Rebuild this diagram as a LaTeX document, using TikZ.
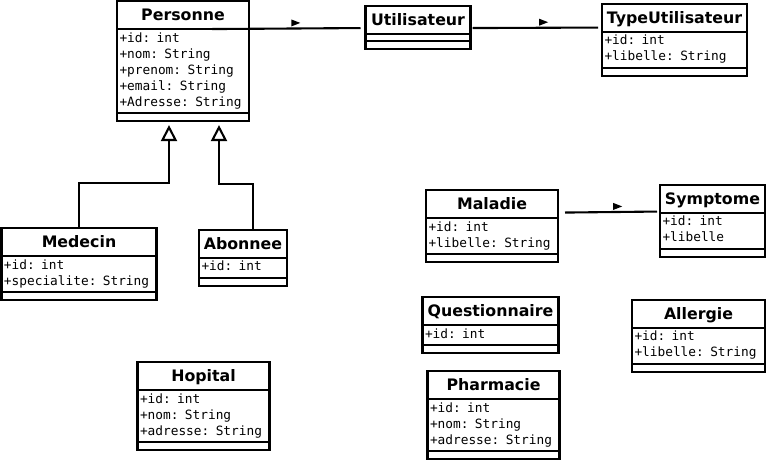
\documentclass[tikz,border=0pt]{standalone}
\usepackage{fontspec}
\setmainfont{DejaVu Sans}
\setmonofont{DejaVu Sans Mono}
\usetikzlibrary{arrows.meta,calc,positioning,shapes.geometric}

\begin{document}
\begin{tikzpicture}[x=1pt,y=-1pt,
    every node/.style={draw,line width=2.1pt,outer sep=0pt},
    classname/.style={minimum width=#1,minimum height=28,inner sep=0pt,text height=11.5pt,text depth=0pt,font=\fontsize{15.8}{18}\selectfont\bfseries},
    attrs/.style={text width=#1-5pt,inner xsep=2.5pt,inner ysep=2pt,align=left,font=\fontsize{12.8}{16}\selectfont\ttfamily,execute at begin node=\strut,execute at end node=\strut},
    ops/.style={minimum width=#1,minimum height=8,inner sep=0pt},
    assoc/.style={line width=2.1pt},
    dirmark/.style={isosceles triangle,isosceles triangle stretches,fill,draw=none,inner sep=0pt,minimum width=7,minimum height=9},
    inherit/.style={line width=2.1pt,-{Triangle[open,length=16pt,width=16pt,fill=white]}}]

  \fill[white] (0,0) rectangle (769,461);

  % Personne et sous-classes
  \node[classname=132] (personne) at (183,15) {Personne};
  \node[attrs=132,below=0pt of personne] (personne-attr) {+id: int\\+nom: String\\+prenom: String\\+email: String\\+Adresse: String};
  \node[ops=132,below=0pt of personne-attr] (personne-ops) {};

  \node[classname=155] (medecin) at (79,242) {Medecin};
  \node[attrs=155,below=0pt of medecin] (medecin-attr) {+id: int\\+specialite: String};
  \node[ops=155,below=0pt of medecin-attr] (medecin-ops) {};

  \node[classname=88] (abonnee) at (243,243.5) {Abonnee};
  \node[attrs=88,below=0pt of abonnee] (abonnee-attr) {+id: int};
  \node[ops=88,below=0pt of abonnee-attr] (abonnee-ops) {};

  \node[classname=132] (hopital) at (203.5,376) {Hopital};
  \node[attrs=132,below=0pt of hopital] (hopital-attr) {+id: int\\+nom: String\\+adresse: String};
  \node[ops=132,below=0pt of hopital-attr] (hopital-ops) {};

  % Utilisateurs
  \node[classname=105] (utilisateur) at (418,20) {Utilisateur};
  \node[ops=105,minimum height=7,below=0pt of utilisateur] (utilisateur-attr) {};
  \node[ops=105,below=0pt of utilisateur-attr] (utilisateur-ops) {};

  \node[classname=145] (typeutilisateur) at (674.5,17.5) {TypeUtilisateur};
  \node[attrs=145,below=0pt of typeutilisateur] (typeutilisateur-attr) {+id: int\\+libelle: String};
  \node[ops=145,below=0pt of typeutilisateur-attr] (typeutilisateur-ops) {};

  % Maladies
  \node[classname=132] (maladie) at (492,204) {Maladie};
  \node[attrs=132,below=0pt of maladie] (maladie-attr) {+id: int\\+libelle: String};
  \node[ops=132,below=0pt of maladie-attr] (maladie-ops) {};

  \node[classname=105] (symptome) at (712.5,198.5) {Symptome};
  \node[attrs=105,below=0pt of symptome] (symptome-attr) {+id: int\\+libelle};
  \node[ops=105,below=0pt of symptome-attr] (symptome-ops) {};

  \node[classname=136] (questionnaire) at (490.5,311) {Questionnaire};
  \node[attrs=136,below=0pt of questionnaire] (questionnaire-attr) {+id: int};
  \node[ops=136,below=0pt of questionnaire-attr] (questionnaire-ops) {};

  \node[classname=133] (allergie) at (698.5,313.5) {Allergie};
  \node[attrs=133,below=0pt of allergie] (allergie-attr) {+id: int\\+libelle: String};
  \node[ops=133,below=0pt of allergie-attr] (allergie-ops) {};

  \node[classname=132] (pharmacie) at (493.5,385) {Pharmacie};
  \node[attrs=132,below=0pt of pharmacie] (pharmacie-attr) {+id: int\\+nom: String\\+adresse: String};
  \node[ops=132,below=0pt of pharmacie-attr] (pharmacie-ops) {};

  % associations
  \draw[assoc] ($(personne.south)+(29,0)$) -- node[dirmark,pos=.55,above=3pt]{} ($(utilisateur.west)+(-5,8)$);
  \draw[assoc] ($(utilisateur.east)+(2,8)$) -- node[dirmark,pos=.55,above=3pt]{} ($(typeutilisateur.west)+(-4,10)$);
  \draw[assoc] ($(maladie.east)+(7,8.5)$) -- node[dirmark,pos=.55,above=3pt]{} ($(symptome.west)+(-3,13)$);

  % heritage
  \draw[inherit] (medecin.north) -- ++(0,-45) -| ($(personne-ops.south)+(-14,4)$);
  \draw[inherit] ($(abonnee.north)+(10,0)$) -- ++(0,-46) -| ($(personne-ops.south)+(36,4)$);
\end{tikzpicture}
\end{document}
